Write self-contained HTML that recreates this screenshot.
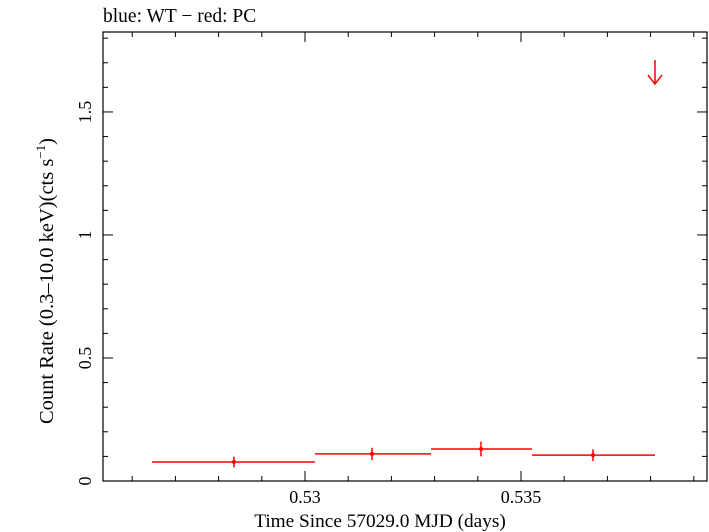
<!DOCTYPE html>
<html><head><meta charset="utf-8"><style>
body{margin:0;background:#fff}
svg{display:block;font-family:"Liberation Serif",serif}
</style></head><body>
<svg id="c" width="709" height="532">
<text x="103" y="22" font-size="19.5">blue: WT − red: PC</text>
<text x="380" y="527" font-size="19.3" text-anchor="middle">Time Since 57029.0 MJD (days)</text>
<text transform="translate(53,281) rotate(-90)" font-size="20.5" text-anchor="middle">Count Rate (0.3–10.0 keV)(cts s<tspan dy="-8" font-size="13">−1</tspan><tspan dy="8">)</tspan></text>
<g id="axes"></g><g id="marks"></g>
</svg>
<script>
const binStart=[0.526458,0.530231,0.532917,0.535255];
const binEnd=[0.530231,0.532917,0.535255,0.538102];
const binCenter=[0.528356,0.531551,0.534074,0.536667];
const rates=[0.077,0.110,0.130,0.105];
const rateErr=[0.022,0.025,0.030,0.024];
const ulX=[0.538102];
const ulVal=[1.711];
const xTicks=[0.53,0.535];
const xTickLabels=["0.53","0.535"];
const yTicks=[0,0.5,1,1.5];
const yTickLabels=["0","0.5","1","1.5"];
const L=103,R=707,T=32,B=481,xMin=0.525324,xMax=0.539306,yMin=0,yMax=1.825;
const X=v=>L+(v-xMin)/(xMax-xMin)*(R-L);
const Y=v=>B-(v-yMin)/(yMax-yMin)*(B-T);
const NS="http://www.w3.org/2000/svg";
const ax=document.getElementById('axes'),mk=document.getElementById('marks');
function el(p,t,a){const e=document.createElementNS(NS,t);for(const k in a)e.setAttribute(k,a[k]);p.appendChild(e);return e;}
const fr=el(ax,'rect',{x:L,y:T,width:R-L,height:B-T,fill:'none',stroke:'#000','stroke-width':1.2});


for(let i=-6;i<=10;i++){const v=0.53+i*0.001;if(v<xMin||v>xMax)continue;const major=Math.abs((i%5))<1e-9;const len=major?10:5;const x=X(v);
const t1=el(ax,'line',{x1:x,x2:x,y1:B,y2:B-len,stroke:'#000'});


const t2=el(ax,'line',{x1:x,x2:x,y1:T,y2:T+len,stroke:'#000'});

}
xTicks.forEach((v,i)=>{const t=el(ax,'text',{x:X(v),y:B+22,'font-size':18,'text-anchor':'middle'});t.textContent=xTickLabels[i];

});
for(let i=0;i<=18;i++){const v=i*0.1;const major=i%5===0;const len=major?10:5;const y=Y(v);
const t1=el(ax,'line',{x1:L,x2:L+len,y1:y,y2:y,stroke:'#000'});


const t2=el(ax,'line',{x1:R,x2:R-len,y1:y,y2:y,stroke:'#000'});

}
yTicks.forEach((v,i)=>{const t=el(ax,'text',{transform:`translate(${L-12},${Y(v)}) rotate(-90)`,'font-size':18,'text-anchor':'middle'});t.textContent=yTickLabels[i];

});
rates.forEach((r,i)=>{
const h=el(mk,'line',{x1:X(binStart[i]),x2:X(binEnd[i]),y1:Y(r),y2:Y(r),stroke:'#f00','stroke-width':1.5});


const v=el(mk,'line',{x1:X(binCenter[i]),x2:X(binCenter[i]),y1:Y(r-rateErr[i]),y2:Y(r+rateErr[i]),stroke:'#f00','stroke-width':1.5});


const c=el(mk,'circle',{cx:X(binCenter[i]),cy:Y(r),r:2,fill:'#f00'});

});
ulX.forEach((u,i)=>{const x=X(u),y=Y(ulVal[i]);
const a=el(mk,'path',{d:`M${x},${y}V${y+24}M${x-7},${y+15}L${x},${y+24}L${x+7},${y+15}`,fill:'none',stroke:'#f00','stroke-width':1.5});

});
</script>
</body></html>
